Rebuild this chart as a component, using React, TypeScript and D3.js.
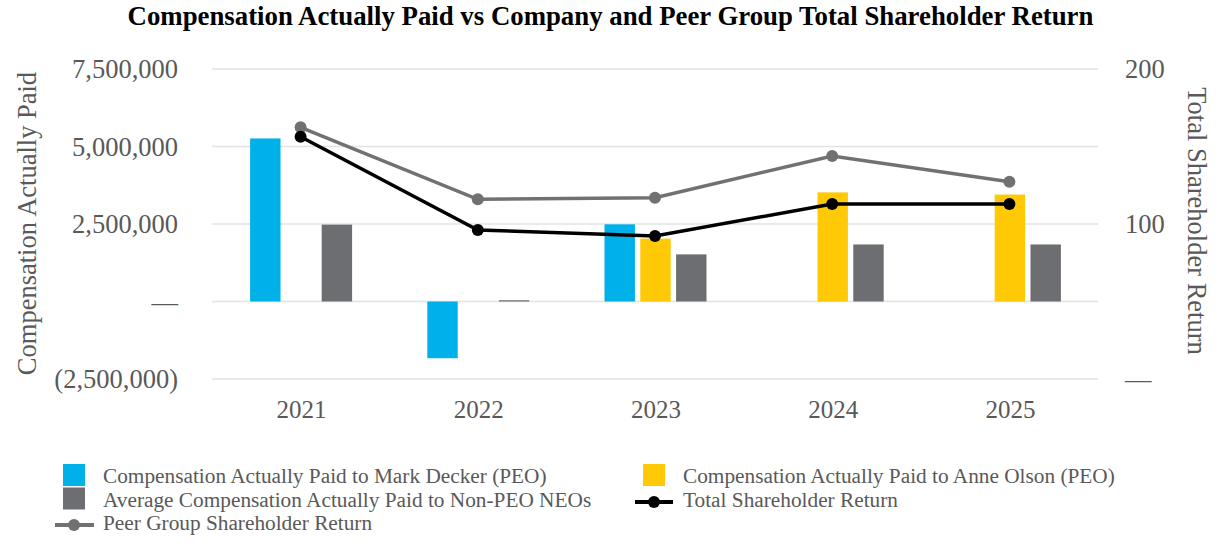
import React from "react";
import * as d3 from "d3";

const years = ["2021", "2022", "2023", "2024", "2025"];
const deckerCap: (number | null)[] = [5260000, -1830000, 2490000, null, null];
const olsonCap: (number | null)[] = [null, null, 2030000, 3520000, 3450000];
const neoCap: (number | null)[] = [2480000, 40000, 1520000, 1840000, 1840000];
const tsr = [156.3, 96.1, 92.3, 112.9, 112.9];
const peerTsr = [162.4, 115.9, 117.0, 143.9, 127.3];
const leftTicks = [-2500000, 0, 2500000, 5000000, 7500000];
const gridTicks = [-2500000, 0, 2500000, 5000000, 7500000];
const rightTicks = [0, 100, 200];

const W = 1226;
const H = 550;
const FONT = "'Liberation Serif', 'Times New Roman', serif";
const TXT = "#595959";
const BLUE = "#00B1E9";
const YELLOW = "#FFC906";
const GRAY = "#6D6E71";
const PEER = "#717171";

function fmtLeft(v: number) {
  if (v === 0) return "—";
  const s = d3.format(",")(Math.abs(v));
  return v < 0 ? `(${s})` : s;
}

export default function App() {
  const x = d3.scaleBand<string>().domain(years).range([212, 1098]).padding(0);
  const yL = d3.scaleLinear().domain([-2500000, 7500000]).range([379, 69]);
  const yR = d3.scaleLinear().domain([0, 200]).range([379, 69]);
  const inner = d3.scaleBand<number>().domain([0, 1, 2]).range([-50.5, 51.5]).paddingInner(0.15);
  const cx = (y: string) => (x(y) as number) + x.bandwidth() / 2;

  const series = [
    { vals: deckerCap, color: BLUE, idx: 0 },
    { vals: olsonCap, color: YELLOW, idx: 1 },
    { vals: neoCap, color: GRAY, idx: 2 },
  ];

  const line = d3
    .line<number>()
    .x((_, i) => cx(years[i]))
    .y((d) => yR(d));

  return (
    <svg width={W} height={H} style={{ position: "absolute", left: 0, top: 0, background: "#fff" }} fontFamily={FONT}>
      <text x={610.5} y={25} textAnchor="middle" fontSize={26.8} fontWeight="bold" fill="#000">
        Compensation Actually Paid vs Company and Peer Group Total Shareholder Return
      </text>

      {gridTicks.map((t) => (
        <line key={t} x1={212} x2={1098} y1={yL(t)} y2={yL(t)} stroke="#E3E3E3" strokeWidth={1.5} />
      ))}

      {leftTicks.map((t) => (
        <text key={t} x={178} y={yL(t)} dy="0.35em" textAnchor="end" fontSize={26.5} fill={TXT}>
          {fmtLeft(t)}
        </text>
      ))}
      {rightTicks.map((t) => (
        <text key={t} x={1125} y={yR(t)} dy="0.35em" textAnchor="start" fontSize={26.5} fill={TXT}>
          {t === 0 ? "—" : t}
        </text>
      ))}

      <text transform={`translate(36,223.5) rotate(-90)`} textAnchor="middle" fontSize={26.5} fill={TXT}>
        Compensation Actually Paid
      </text>
      <text transform={`translate(1188,221) rotate(90)`} textAnchor="middle" fontSize={26.5} fill={TXT}>
        Total Shareholder Return
      </text>

      {years.map((yr) => (
        <text key={yr} x={cx(yr) + 1} y={418} textAnchor="middle" fontSize={25} fill={TXT}>
          {yr}
        </text>
      ))}

      {series.map((s) =>
        s.vals.map((v, i) =>
          v === null ? null : (
            <rect
              key={`${s.idx}-${i}`}
              x={cx(years[i]) + (inner(s.idx) as number)}
              width={inner.bandwidth()}
              y={Math.min(yL(v), yL(0))}
              height={Math.abs(yL(v) - yL(0))}
              fill={s.color}
            />
          )
        )
      )}

      <path d={line(peerTsr) || ""} fill="none" stroke={PEER} strokeWidth={3.5} />
      {peerTsr.map((v, i) => (
        <circle key={`p${i}`} cx={cx(years[i])} cy={yR(v)} r={6} fill={PEER} />
      ))}
      <path d={line(tsr) || ""} fill="none" stroke="#000" strokeWidth={3.5} />
      {tsr.map((v, i) => (
        <circle key={`t${i}`} cx={cx(years[i])} cy={yR(v)} r={6} fill="#000" />
      ))}

      {/* Legend */}
      <g fontSize={21.3} fill={TXT}>
        <rect x={63} y={464} width={22} height={22} fill={BLUE} />
        <text x={103} y={483}>Compensation Actually Paid to Mark Decker (PEO)</text>
        <rect x={63} y={487.5} width={22} height={22} fill={GRAY} />
        <text x={103} y={506.5}>Average Compensation Actually Paid to Non-PEO NEOs</text>
        <line x1={55} x2={94} y1={525} y2={525} stroke={PEER} strokeWidth={4} />
        <circle cx={74} cy={525} r={6} fill={PEER} />
        <text x={103} y={530}>Peer Group Shareholder Return</text>

        <rect x={643} y={464} width={22} height={22} fill={YELLOW} />
        <text x={683} y={483}>Compensation Actually Paid to Anne Olson (PEO)</text>
        <line x1={635} x2={673} y1={502} y2={502} stroke="#000" strokeWidth={4} />
        <circle cx={654} cy={502} r={6} fill="#000" />
        <text x={683} y={506.5}>Total Shareholder Return</text>
      </g>
    </svg>
  );
}
